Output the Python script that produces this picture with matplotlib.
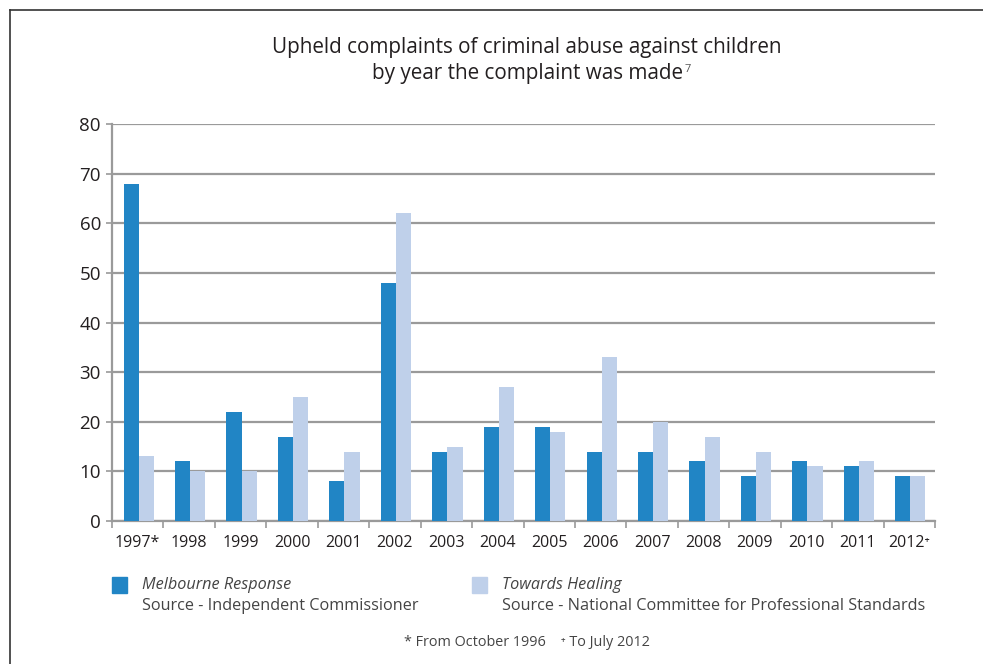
import matplotlib
matplotlib.use("Agg")
import matplotlib.pyplot as plt
from matplotlib.lines import Line2D
from matplotlib.patches import Rectangle
import numpy as np

years = ["1997*", "1998", "1999", "2000", "2001", "2002", "2003", "2004",
         "2005", "2006", "2007", "2008", "2009", "2010", "2011", "2012\u207a"]
melbourne_response = [68, 12, 22, 17, 8, 48, 14, 19, 19, 14, 14, 12, 9, 12, 11, 9]
towards_healing = [13, 10, 10, 25, 14, 62, 15, 27, 18, 33, 20, 17, 14, 11, 12, 9]
y_ticks = [0, 10, 20, 30, 40, 50, 60, 70, 80]

C_MR = "#2185C5"
C_TH = "#BFD0EA"
GRID = "#9a9a9a"
TXT = "#231f20"
FONT = ["Open Sans", "DejaVu Sans"]

plt.rcParams["font.family"] = FONT

W, H = 983, 664
fig = plt.figure(figsize=(W / 100, H / 100), dpi=100)
fig.patch.set_facecolor("white")

def fx(px):
    return px / W

def fy(py):
    return 1 - py / H

# frame around the figure panel (top and left edges)
fig.add_artist(Line2D([fx(10), fx(983)], [fy(10), fy(10)], color="#333333", lw=1.2))
fig.add_artist(Line2D([fx(10), fx(10)], [fy(10), fy(664)], color="#333333", lw=1.2))

ax = fig.add_axes([fx(112), fy(521), fx(935) - fx(112), fy(124) - fy(521)])
x = np.arange(len(years))
w = 0.295
ax.bar(x - w / 2 + 0.02, melbourne_response, width=w, color=C_MR, zorder=3)
ax.bar(x + w / 2 + 0.02, towards_healing, width=w, color=C_TH, zorder=3)

ax.set_ylim(0, 80)
ax.set_xlim(-0.5, len(years) - 0.5)
ax.set_yticks(y_ticks)
ax.set_yticklabels([str(v) for v in y_ticks], fontsize=13.5, color=TXT)
ax.yaxis.grid(True, color=GRID, lw=1.6, zorder=1)
ax.set_axisbelow(True)

ax.set_xticks(x)
ax.set_xticklabels(years, fontsize=11.5, color=TXT)
ax.tick_params(axis="x", length=0, pad=10)
ax.set_xticks(np.arange(-0.5, len(years), 1), minor=True)
ax.tick_params(axis="x", which="minor", length=5, width=1.2, color=GRID, direction="out")
ax.tick_params(axis="y", length=4, width=1.2, color=GRID, pad=4)

for s in ["top", "right"]:
    ax.spines[s].set_visible(False)
for s in ["left", "bottom"]:
    ax.spines[s].set_color(GRID)
    ax.spines[s].set_linewidth(1.6)

# title
fig.text(fx(527), fy(48), "Upheld complaints of criminal abuse against children",
         ha="center", va="center", fontsize=14.9, color=TXT)
line2 = fig.text(fx(527), fy(73), "by year the complaint was made",
                 ha="center", va="center", fontsize=14.9, color=TXT)
fig.canvas.draw()
bb = line2.get_window_extent(fig.canvas.get_renderer())
fig.text((bb.x1 + 2) / W, fy(69), "7", ha="left", va="center",
         fontsize=8, color="#555555")

# legend
for sx, name, src, col in [
    (112, "Melbourne Response", "Source - Independent Commissioner", C_MR),
    (472, "Towards Healing", "Source - National Committee for Professional Standards", C_TH),
]:
    fig.add_artist(Rectangle((fx(sx), fy(593)), fx(15), fy(577) - fy(593),
                             transform=fig.transFigure, color=col))
    fig.text(fx(sx + 30), fy(585), name, ha="left", va="center",
             fontsize=11.7, style="italic", color="#444444")
    fig.text(fx(sx + 30), fy(606), src, ha="left", va="center",
             fontsize=11.7, color="#444444")

# footnotes
fig.text(fx(527), fy(643), "* From October 1996    \u207a To July 2012",
         ha="center", va="center", fontsize=10.4, color="#444444")

fig.savefig("out.png", dpi=100, facecolor="white")
